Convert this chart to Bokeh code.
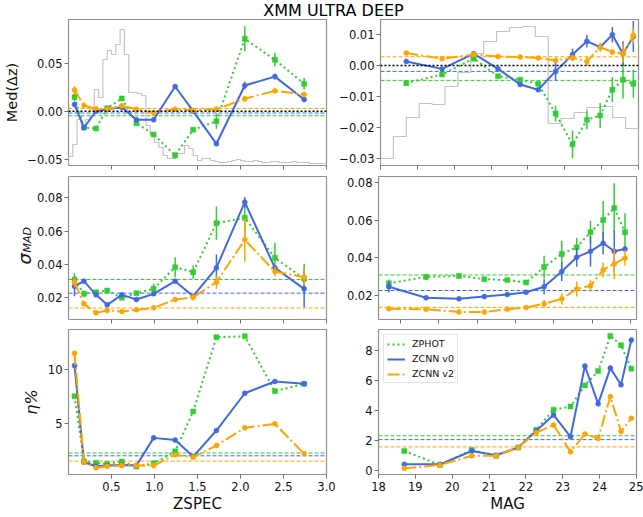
import numpy as np
from bokeh.plotting import figure
from bokeh.models import Range1d, FixedTicker, Title, Legend, LegendItem, Span, Div, AllLabels
from bokeh.layouts import column, row
from bokeh.embed import file_html
from bokeh.resources import INLINE

# ---------------- data ----------------
title_text = "XMM ULTRA DEEP"
series_names = ["ZPHOT", "ZCNN v0", "ZCNN v2"]

zspec_bins = [0.07, 0.18, 0.32, 0.45, 0.62, 0.79, 0.99, 1.24, 1.45, 1.72, 2.05, 2.40, 2.74]
mag_bins = [18.70, 19.67, 20.53, 21.19, 21.79, 22.28, 22.75, 23.21, 23.60, 23.96, 24.29, 24.58, 24.86]

# global values (zphot, v0, v2)
med_global = [-0.0048, -0.0019, 0.0028]
sig_global = [0.0310, 0.0228, 0.0139]
eta_global = [2.30, 2.04, 1.55]

# Med(dz) vs ZSPEC
med_zspec_zphot = [0.0146, -0.0170, -0.0180, 0.0030, 0.0133, -0.0125, -0.0243, -0.0460, -0.0194, -0.0104, 0.0754, 0.0535, 0.0285]
med_zspec_zphot_err = [0.004, 0.002, 0.002, 0.002, 0.002, 0.002, 0.002, 0.003, 0.002, 0.008, 0.013, 0.007, 0.006]
med_zspec_v0 = [0.0070, -0.0173, 0.0000, 0.0020, 0.0040, -0.0090, -0.0090, 0.0257, 0.0000, -0.0340, 0.0268, 0.0360, 0.0122]
med_zspec_v0_err = [0.003, 0.002, 0.001, 0.001, 0.001, 0.001, 0.001, 0.001, 0.001, 0.002, 0.004, 0.003, 0.002]
med_zspec_v2 = [0.0220, 0.0060, 0.0025, 0.0020, 0.0056, 0.0020, -0.0017, 0.0020, 0.0010, 0.0020, 0.0129, 0.0212, 0.0174]
med_zspec_v2_err = [0.004, 0.001, 0.001, 0.001, 0.001, 0.001, 0.001, 0.001, 0.001, 0.001, 0.003, 0.001, 0.003]

# Med(dz) vs MAG
med_mag_zphot = [-0.0057, -0.0029, 0.0022, -0.0035, -0.0046, -0.0059, -0.0155, -0.0254, -0.0175, -0.0161, -0.0078, -0.0046, -0.0059]
med_mag_zphot_err = [0.0007, 0.0006, 0.0006, 0.0005, 0.0005, 0.0006, 0.0025, 0.0045, 0.003, 0.004, 0.004, 0.006, 0.0045]
med_mag_v0 = [0.0013, -0.0011, 0.0038, -0.0011, -0.0061, -0.0078, -0.0019, 0.0035, 0.0078, 0.0059, 0.0099, 0.0038, 0.0093]
med_mag_v0_err = [0.0005, 0.0004, 0.0004, 0.0004, 0.0004, 0.0005, 0.003, 0.002, 0.002, 0.0008, 0.0025, 0.004, 0.005]
med_mag_v2 = [0.0040, 0.0022, 0.0035, 0.0029, 0.0027, 0.0024, 0.0016, 0.0025, 0.0013, 0.0059, 0.0043, 0.0038, 0.0097]
med_mag_v2_err = [0.0004, 0.0003, 0.0003, 0.0003, 0.0003, 0.0003, 0.0006, 0.0008, 0.0015, 0.0015, 0.0008, 0.003, 0.0025]

# sigma_MAD vs ZSPEC
sig_zspec_zphot = [0.0308, 0.0224, 0.0234, 0.0244, 0.0200, 0.0228, 0.0254, 0.0384, 0.0354, 0.0648, 0.0680, 0.0440, 0.0314]
sig_zspec_zphot_err = [0.004, 0.002, 0.001, 0.001, 0.001, 0.001, 0.003, 0.006, 0.004, 0.010, 0.012, 0.009, 0.009]
sig_zspec_v0 = [0.0270, 0.0300, 0.0218, 0.0158, 0.0218, 0.0190, 0.0224, 0.0300, 0.0210, 0.0380, 0.0774, 0.0380, 0.0254]
sig_zspec_v0_err = [0.006, 0.001, 0.001, 0.001, 0.001, 0.001, 0.001, 0.001, 0.001, 0.008, 0.003, 0.001, 0.011]
sig_zspec_v2 = [0.0294, 0.0164, 0.0110, 0.0124, 0.0118, 0.0128, 0.0140, 0.0190, 0.0204, 0.0294, 0.0548, 0.0358, 0.0324]
sig_zspec_v2_err = [0.003, 0.001, 0.001, 0.001, 0.001, 0.001, 0.001, 0.001, 0.002, 0.004, 0.013, 0.003, 0.005]

# sigma_MAD vs MAG
sig_mag_zphot = [0.0266, 0.0300, 0.0305, 0.0288, 0.0283, 0.0271, 0.0352, 0.0421, 0.0456, 0.0536, 0.0600, 0.0664, 0.0536]
sig_mag_zphot_err = [0.002, 0.0015, 0.0015, 0.001, 0.001, 0.001, 0.006, 0.007, 0.005, 0.006, 0.010, 0.013, 0.010]
sig_mag_v0 = [0.0248, 0.0190, 0.0184, 0.0196, 0.0207, 0.0219, 0.0248, 0.0328, 0.0404, 0.0435, 0.0478, 0.0435, 0.0447]
sig_mag_v0_err = [0.003, 0.0005, 0.0005, 0.0005, 0.0005, 0.0005, 0.004, 0.005, 0.005, 0.008, 0.006, 0.011, 0.001]
sig_mag_v2 = [0.0132, 0.0129, 0.0115, 0.0115, 0.0129, 0.0138, 0.0158, 0.0184, 0.0236, 0.0253, 0.0337, 0.0369, 0.0400]
sig_mag_v2_err = [0.0005, 0.0005, 0.0005, 0.0005, 0.0005, 0.0005, 0.002, 0.003, 0.004, 0.003, 0.004, 0.008, 0.004]

# outlier fraction eta% vs ZSPEC
eta_zspec_zphot = [7.56, 1.54, 1.39, 1.30, 1.51, 1.05, 1.35, 2.46, 6.14, 13.02, 13.10, 8.02, 8.70]
eta_zspec_v0 = [10.40, 1.45, 1.07, 1.14, 1.20, 1.14, 3.70, 3.50, 1.97, 4.38, 7.83, 8.92, 8.70]
eta_zspec_v2 = [11.54, 1.45, 0.93, 1.07, 1.14, 1.14, 1.14, 2.13, 1.91, 2.99, 4.63, 5.00, 2.22]

# outlier fraction eta% vs MAG
eta_mag_zphot = [1.28, 0.34, 1.35, 0.95, 1.51, 2.68, 4.05, 4.26, 5.68, 6.64, 8.99, 8.38, 6.80]
eta_mag_v0 = [0.38, 0.38, 1.28, 0.99, 1.51, 2.64, 3.70, 2.23, 6.98, 4.44, 6.84, 5.72, 8.72]
eta_mag_v2 = [0.12, 0.34, 0.95, 0.95, 1.51, 2.52, 3.02, 1.22, 2.41, 2.12, 4.93, 2.59, 3.47]

# background distributions (arbitrary units)
zspec_hist_edges = list(np.linspace(0.0, 3.0, 61))
zspec_hist_counts = [8, 20, 45, 40, 45, 55, 75, 67, 105, 114, 110, 120, 135, 110, 72, 72, 71, 69, 39, 29,
                     22, 17, 9, 6, 6, 11, 11, 19, 16, 9, 4, 6, 6, 4, 3, 2, 2, 3, 4, 5,
                     4, 3, 3, 4, 3, 2, 2, 3, 3, 2, 2, 2, 3, 2, 2, 2, 1, 1, 1, 1]
mag_hist_edges = list(np.linspace(18.0, 25.0, 21))
mag_hist_counts = [7, 29, 48, 62, 61, 79, 93, 112, 124, 134, 138, 139, 129, 42, 47, 53, 58, 59, 48, 37]

# tick labels
zspec_ticks = [0.5, 1.0, 1.5, 2.0, 2.5, 3.0]
zspec_tick_labels = ["0.5", "1.0", "1.5", "2.0", "2.5", "3.0"]
mag_ticks = [18, 19, 20, 21, 22, 23, 24, 25]
mag_tick_labels = ["18", "19", "20", "21", "22", "23", "24", "25"]
med_zspec_yticks = [-0.05, 0.0, 0.05]
med_zspec_ylabels = ["\u22120.05", "0.00", "0.05"]
med_mag_yticks = [-0.03, -0.02, -0.01, 0.0, 0.01]
med_mag_ylabels = ["\u22120.03", "\u22120.02", "\u22120.01", "0.00", "0.01"]
sig_yticks = [0.02, 0.04, 0.06, 0.08]
sig_ylabels = ["0.02", "0.04", "0.06", "0.08"]
eta_zspec_yticks = [5, 10]
eta_zspec_ylabels = ["5", "10"]
eta_mag_yticks = [0, 2, 4, 6, 8]
eta_mag_ylabels = ["0", "2", "4", "6", "8"]

# ---------------- style ----------------
FONT = "DejaVu Sans"
C_G, C_B, C_O = "#32CD32", "#4169E1", "#FFA500"
COLORS = [C_G, C_B, C_O]
DASHES = ["2 3", "solid", "12 3 2 3"]
MARKERS = ["square", "circle", "circle"]
FRAME = "#909090"
TICKC = "#707070"
TXT = "#111111"
HIST = "#c4c4c4"

LW, FW = 68, 258
RB_L, LB_R, RB_R = 10, 42, 7


def make_fig(xr, yr, fh, left, right, top, bottom):
    p = figure(x_range=Range1d(*xr), y_range=Range1d(*yr), frame_width=FW, frame_height=fh,
               min_border_left=left, min_border_right=right, min_border_top=top,
               min_border_bottom=bottom, output_backend="svg", toolbar_location=None,
               background_fill_color="white", border_fill_color="white")
    p.grid.visible = False
    p.outline_line_color = FRAME
    p.outline_line_width = 1.2
    return p


def style_axes(p, xticks, xlabels, yticks, ylabels, show_x, xtitle=None, ytitle=None,
               ytitle_style="normal", ytitle_size="14.5px"):
    xa = p.xaxis[0]
    ya = p.yaxis[0]
    for a in (xa, ya):
        a.axis_line_color = None
        a.major_tick_line_color = TICKC
        a.major_tick_line_width = 1
        a.major_tick_out = 4
        a.major_tick_in = 0
        a.minor_tick_line_color = None
        a.major_label_text_font = FONT
        a.major_label_text_font_size = "11.5px"
        a.major_label_text_color = TXT
        a.axis_label_text_font = FONT
        a.axis_label_text_color = TXT
        a.major_label_policy = AllLabels()
    xa.ticker = FixedTicker(ticks=list(xticks), minor_ticks=[])
    ya.ticker = FixedTicker(ticks=list(yticks), minor_ticks=[])
    ya.major_label_overrides = {t: l for t, l in zip(yticks, ylabels)}
    ya.major_label_standoff = 2
    if show_x:
        xa.major_label_overrides = {t: l for t, l in zip(xticks, xlabels)}
        xa.major_label_standoff = 3
    else:
        xa.major_label_overrides = {t: "" for t in xticks}
        xa.major_label_text_font_size = "0px"
        xa.major_label_standoff = 0
    if xtitle:
        xa.axis_label = xtitle
        xa.axis_label_text_font_size = "15px"
        xa.axis_label_text_font_style = "normal"
        xa.axis_label_standoff = 1
    if ytitle:
        ya.axis_label = ytitle
        ya.axis_label_text_font_size = ytitle_size
        ya.axis_label_text_font_style = ytitle_style
        ya.axis_label_standoff = 4


def add_hlines(p, vals):
    for v, c in zip(vals, COLORS):
        p.add_layout(Span(location=v, dimension="width", line_color=c, line_width=1,
                          line_dash="4 2", level="underlay"))


def add_series(p, x, ys, errs):
    rs = []
    for k, (y, c, d, m) in enumerate(zip(ys, COLORS, DASHES, MARKERS)):
        if errs is not None:
            e = np.array(errs[k])
            yy = np.array(y)
            p.segment(x0=x, y0=list(yy - e), x1=x, y1=list(yy + e), line_color=c, line_width=1.5)
        r = p.line(x, y, line_color=c, line_width=2, line_dash=d)
        p.scatter(x, y, marker=m, size=5, fill_color=c, line_color=c, line_width=0.5)
        rs.append(r)
    return rs


def add_hist(p, edges, counts, yr):
    p.extra_y_ranges = {"hist": Range1d(*yr)}
    xs = [edges[0]] + list(edges)
    ys = [0] + list(counts) + [0]
    p.step(xs, ys, mode="after", line_color=HIST, line_width=1.2, y_range_name="hist")


def zero_line(p):
    p.add_layout(Span(location=0, dimension="width", line_color="black", line_width=1.5,
                      line_dash="2 2"))


# ---------------- row 1: Med(dz) ----------------
p11 = make_fig((0.0, 3.0), (-0.0566, 0.0955), 146, LW, RB_L, 1, 6)
add_hist(p11, zspec_hist_edges, zspec_hist_counts, (-1, 145))
add_hlines(p11, med_global)
zero_line(p11)
add_series(p11, zspec_bins, [med_zspec_zphot, med_zspec_v0, med_zspec_v2],
           [med_zspec_zphot_err, med_zspec_v0_err, med_zspec_v2_err])
style_axes(p11, zspec_ticks, zspec_tick_labels, med_zspec_yticks, med_zspec_ylabels, False,
           ytitle="Med(\u0394z)")

p12 = make_fig((18.0, 25.0), (-0.0322, 0.0148), 146, LB_R, RB_R, 1, 6)
add_hist(p12, mag_hist_edges, mag_hist_counts, (0, 146))
add_hlines(p12, med_global)
zero_line(p12)
add_series(p12, mag_bins, [med_mag_zphot, med_mag_v0, med_mag_v2],
           [med_mag_zphot_err, med_mag_v0_err, med_mag_v2_err])
style_axes(p12, mag_ticks, mag_tick_labels, med_mag_yticks, med_mag_ylabels, False)

# ---------------- row 2: sigma_MAD ----------------
p21 = make_fig((0.0, 3.0), (0.007, 0.0928), 143, LW, RB_L, 5, 5)
add_hlines(p21, sig_global)
add_series(p21, zspec_bins, [sig_zspec_zphot, sig_zspec_v0, sig_zspec_v2],
           [sig_zspec_zphot_err, sig_zspec_v0_err, sig_zspec_v2_err])
style_axes(p21, zspec_ticks, zspec_tick_labels, sig_yticks, sig_ylabels, False)
p21.add_layout(Title(text="MAD", align="left", offset=67, standoff=0, vertical_align="bottom",
                     text_font=FONT, text_font_size="11px", text_font_style="italic",
                     text_color=TXT), "left")
p21.add_layout(Title(text="\u03c3", align="left", offset=55, standoff=-32, vertical_align="bottom",
                     text_font=FONT, text_font_size="18px", text_font_style="italic",
                     text_color=TXT), "left")

p22 = make_fig((18.43, 25.16), (0.0075, 0.0830), 143, LB_R, RB_R, 5, 5)
add_hlines(p22, sig_global)
add_series(p22, mag_bins, [sig_mag_zphot, sig_mag_v0, sig_mag_v2],
           [sig_mag_zphot_err, sig_mag_v0_err, sig_mag_v2_err])
style_axes(p22, mag_ticks[1:], mag_tick_labels[1:], sig_yticks, sig_ylabels, False)

# ---------------- row 3: eta% ----------------
p31 = make_fig((0.0, 3.0), (0.31, 13.73), 145, LW, RB_L, 5, 43)
add_hlines(p31, eta_global)
add_series(p31, zspec_bins, [eta_zspec_zphot, eta_zspec_v0, eta_zspec_v2], None)
style_axes(p31, zspec_ticks, zspec_tick_labels, eta_zspec_yticks, eta_zspec_ylabels, True,
           xtitle="ZSPEC", ytitle="\u03b7%", ytitle_style="italic", ytitle_size="16px")

p32 = make_fig((18.0, 25.0), (-0.3, 9.43), 145, LB_R, RB_R, 5, 43)
add_hlines(p32, eta_global)
rs = add_series(p32, mag_bins, [eta_mag_zphot, eta_mag_v0, eta_mag_v2], None)
style_axes(p32, mag_ticks, mag_tick_labels, eta_mag_yticks, eta_mag_ylabels, True, xtitle="MAG")
legend = Legend(items=[LegendItem(label=n, renderers=[r]) for n, r in zip(series_names, rs)],
                location="top_left", label_text_font=FONT, label_text_font_size="9.5px",
                label_text_color=TXT, glyph_width=18, glyph_height=10, label_height=10,
                label_standoff=7, spacing=4, padding=3, margin=5,
                border_line_color="#cccccc", border_line_width=1,
                background_fill_color="white", background_fill_alpha=0.8)
p32.add_layout(legend)

title_div = Div(text=('<div style="width:643px;height:18px;padding-left:24px;box-sizing:border-box;'
                      'text-align:center;font-family:\'DejaVu Sans\';font-size:16px;line-height:21px;'
                      'color:#000;white-space:nowrap;">' + title_text + '</div>'),
                width=643, height=18, margin=(0, 0, 0, 0))

layout = column(title_div, row(p11, p12), row(p21, p22), row(p31, p32))

with open("out.html", "w") as f:
    f.write(file_html(layout, INLINE))
